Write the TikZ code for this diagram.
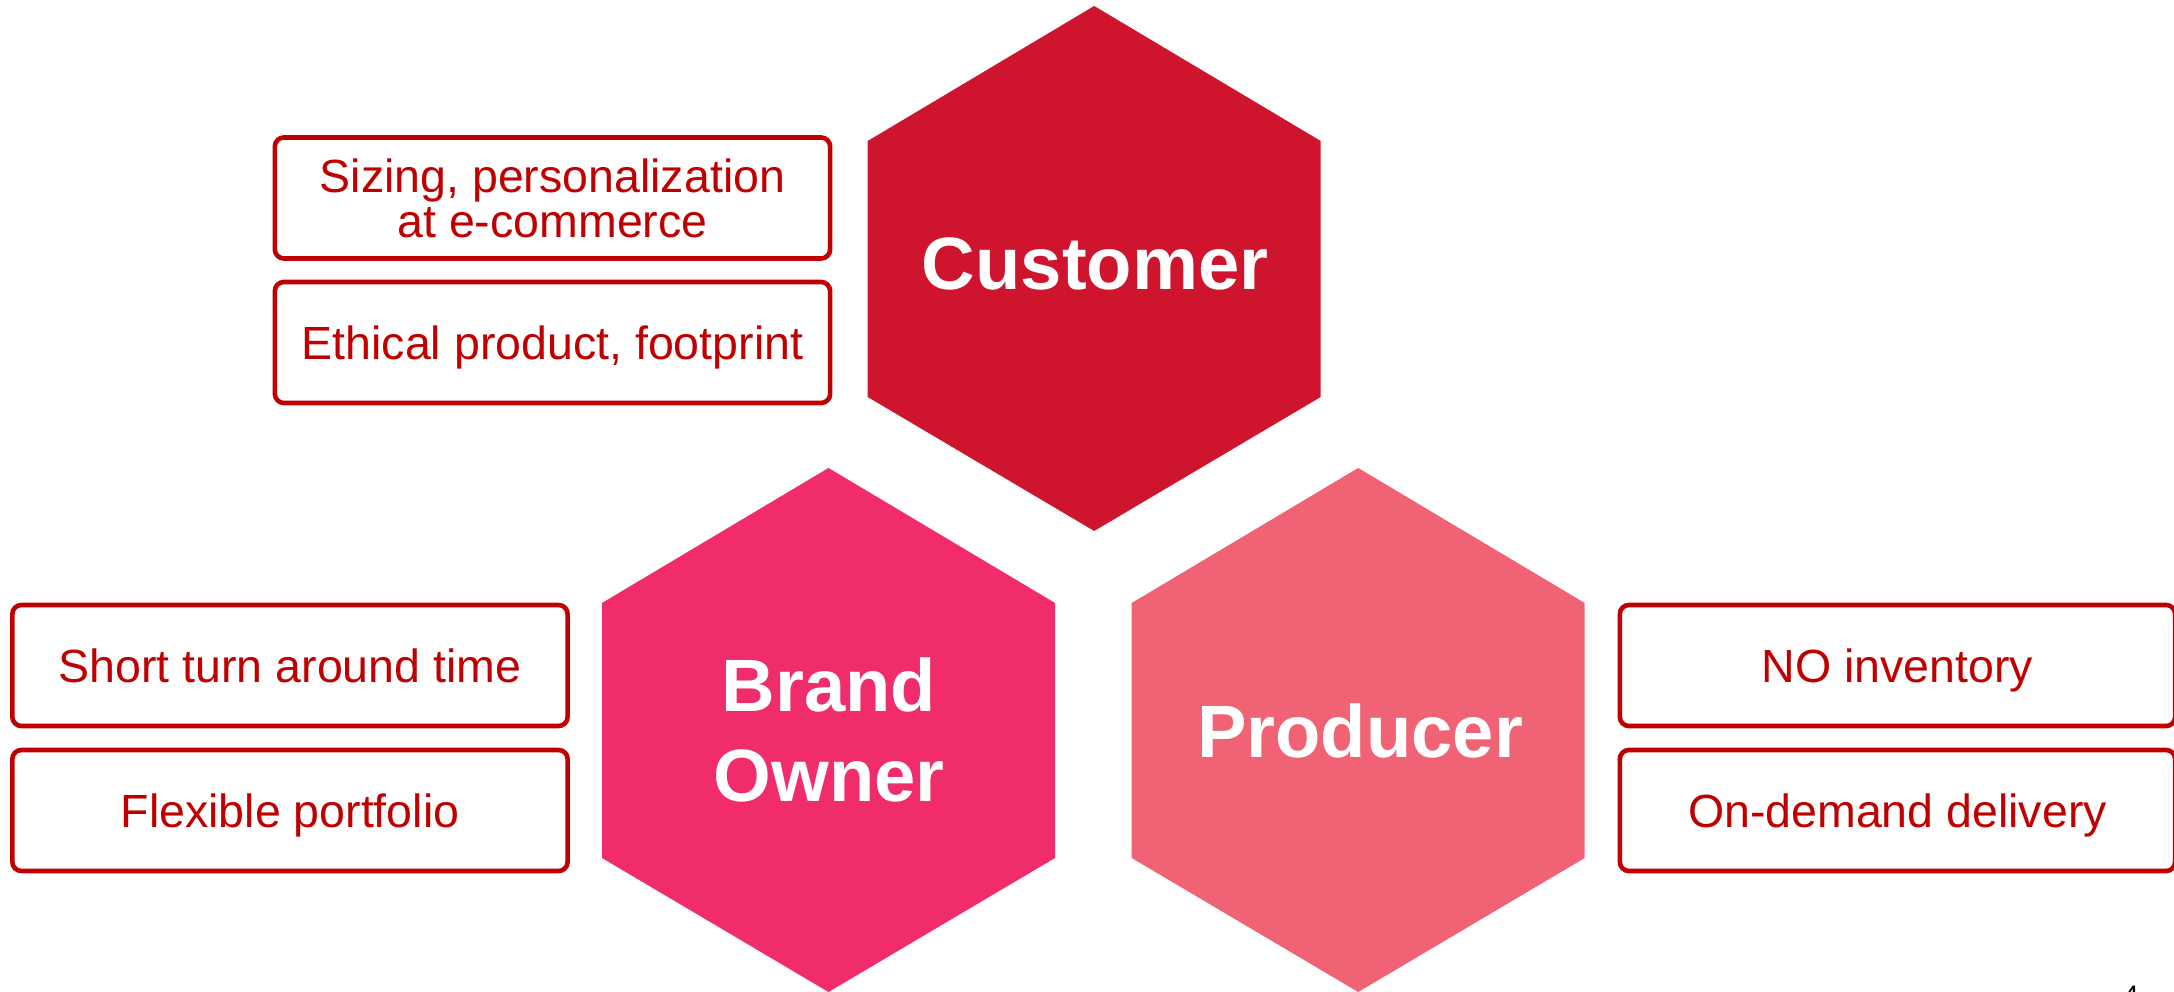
\documentclass[tikz,border=0pt]{standalone}
\usepackage{fontspec}
\setmainfont{Liberation Sans}
\definecolor{custred}{RGB}{207,21,46}
\definecolor{brandpink}{RGB}{241,44,106}
\definecolor{prodpink}{RGB}{240,99,116}
\definecolor{boxred}{RGB}{192,0,0}
\newcommand{\twolines}[2]{\vbox{\halign{\hfil##\hfil\cr#1\cr#2\cr}}}
\tikzset{
  infobox/.style={draw=boxred, line width=1.31pt, rounded corners=2.6pt, fill=white,
    minimum width=5.55cm, minimum height=1.21cm, inner sep=0pt, text=boxred,
    font=\fontsize{13.23pt}{12.8pt}\selectfont, text height=9.47pt, text depth=0pt},
  infobox2/.style={infobox, text height=22.27pt},
  hexlabel/.style={text=white, font=\fontsize{21.1pt}{25.6pt}\selectfont\bfseries,
    inner sep=0pt, text height=15.1pt, text depth=0pt},
  hexlabel2/.style={hexlabel, text height=40.7pt},
}
\begin{document}
\begin{tikzpicture}[x=0.01cm, y=-0.01cm]
\useasboundingbox (0,0) rectangle (2174,992);
\fill[white] (0,0) rectangle (2174,992);

% hexagons
\fill[custred] (1094.2,6) -- (1320.7,141) -- (1320.7,397) -- (1094.2,531)
  -- (867.7,397) -- (867.7,141) -- cycle;
\fill[brandpink] (828.5,468) -- (1055,603) -- (1055,858) -- (828.5,992)
  -- (602,858) -- (602,603) -- cycle;
\fill[prodpink] (1358.2,468) -- (1584.7,603) -- (1584.7,858) -- (1358.2,992)
  -- (1131.7,858) -- (1131.7,603) -- cycle;

% hexagon labels
\node[hexlabel] (customer) at (1095,262.7) {Customer};
\node[hexlabel2] (brand) at (829,730) {\twolines{Brand}{Owner}};
\node[hexlabel] (producer) at (1360,731) {Producer};

% info boxes
\node[infobox2] (sizing) at (552.5,198) {\twolines{Sizing, personalization}{at e-commerce}};
\node[infobox] (ethical) at (552.5,342.5) {Ethical product, footprint};
\node[infobox] (short) at (290,665.5) {Short turn around time};
\node[infobox] (flex) at (290,810.5) {Flexible portfolio};
\node[infobox] (noinv) at (1897.5,665.5) {NO inventory};
\node[infobox] (ondemand) at (1897.5,810.5) {On-demand delivery};

% page number (cut off at bottom)
\node[anchor=north, inner sep=0pt, text height=5.7pt, text depth=0pt,
  font=\fontsize{8pt}{9pt}\selectfont] (pagenum) at (2131,985) {4};
\end{tikzpicture}
\end{document}
